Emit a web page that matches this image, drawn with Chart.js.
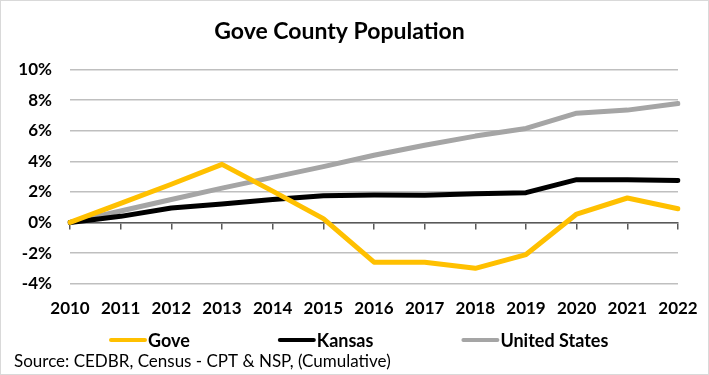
<!DOCTYPE html>
<html>
<head>
<meta charset="utf-8">
<script src="https://cdn.jsdelivr.net/npm/chart.js@4"></script>
<style>
  body { margin: 0; background: #fff; }
  #wrap { width: 709px; height: 375px; box-sizing: border-box; border: 1px solid #d9d9d9; }
</style>
</head>
<body>
<div id="wrap"><canvas id="popChart" width="707" height="373"></canvas></div>
<script>
const years = ["2010", "2011", "2012", "2013", "2014", "2015", "2016", "2017", "2018", "2019", "2020", "2021", "2022"];
const gove = [0, 1.25, 2.5, 3.8, 2.05, 0.25, -2.6, -2.6, -3.0, -2.1, 0.55, 1.6, 0.9];
const kansas = [0, 0.4, 0.95, 1.2, 1.5, 1.75, 1.8, 1.78, 1.87, 1.95, 2.8, 2.8, 2.75];
const unitedStates = [0, 0.75, 1.5, 2.25, 2.95, 3.65, 4.4, 5.05, 5.65, 6.15, 7.15, 7.35, 7.78];
const yTicks = [-4, -2, 0, 2, 4, 6, 8, 10];

const FONT = "Lato, 'Liberation Sans', sans-serif";

// legend drawn by hand so the wide spacing of the original can be kept
const lineLegend = {
  id: "lineLegend",
  afterDraw(chart) {
    const ctx = chart.ctx;
    const sets = chart.data.datasets;
    const sample = 38, gapText = 1, gapItem = 88;
    ctx.save();
    ctx.font = "bold 18px " + FONT;
    let x = 108;
    const y = 339;
    sets.forEach(d => {
      ctx.strokeStyle = d.borderColor;
      ctx.lineWidth = 4;
      ctx.lineCap = "round";
      ctx.beginPath();
      ctx.moveTo(x + 2, y);
      ctx.lineTo(x + sample - 2, y);
      ctx.stroke();
      ctx.fillStyle = "#000";
      ctx.textBaseline = "middle";
      ctx.textAlign = "left";
      ctx.fillText(d.label, x + sample + gapText, y + 1);
      x += sample + gapText + ctx.measureText(d.label).width + gapItem;
    });
    ctx.font = "17px " + FONT;
    ctx.fillText("Source: CEDBR, Census - CPT & NSP, (Cumulative)", 13, 361);
    ctx.restore();
  }
};

function makeSet(label, data, color) {
  return {
    label,
    data,
    borderColor: color,
    backgroundColor: color,
    borderWidth: 5,
    pointRadius: 0,
    tension: 0,
    borderJoinStyle: "round",
    borderCapStyle: "round"
  };
}

new Chart(document.getElementById("popChart"), {
  type: "line",
  data: {
    labels: years,
    datasets: [
      makeSet("Gove", gove, "#FFC000"),
      makeSet("Kansas", kansas, "#000000"),
      makeSet("United States", unitedStates, "#A5A5A5")
    ]
  },
  options: {
    responsive: false,
    animation: false,
    layout: { padding: { left: 0, right: 30, top: 0, bottom: 48 } },
    plugins: {
      legend: { display: false },
      tooltip: { enabled: false },
      title: {
        display: true,
        text: "Gove County Population",
        color: "#000",
        font: { family: FONT, size: 23, weight: "bold" },
        padding: { top: 17, bottom: 24 }
      }
    },
    scales: {
      x: {
        type: "category",
        offset: false,
        grid: { display: false },
        border: { display: false },
        ticks: {
          color: "#000",
          maxRotation: 0,
          autoSkip: false,
          padding: 7,
          font: { family: FONT, size: 17, weight: "bold" }
        }
      },
      xZero: {
        type: "category",
        labels: years,
        offset: false,
        position: { y: 0 },
        grid: { drawOnChartArea: false, tickLength: 6, color: "#595959", lineWidth: 1.5 },
        border: { color: "#595959", width: 1.5 },
        ticks: { display: false }
      },
      y: {
        min: -4,
        max: 10,
        afterFit(scale) { scale.width = 69; },
        afterBuildTicks(scale) { scale.ticks = yTicks.map(v => ({ value: v })); },
        grid: { color: "#bfbfbf", lineWidth: 1.5, drawTicks: false },
        border: { display: false },
        ticks: {
          color: "#000",
          padding: 18,
          font: { family: FONT, size: 17, weight: "bold" },
          callback: v => v + "%"
        }
      }
    }
  },
  plugins: [lineLegend]
});
</script>
</body>
</html>
